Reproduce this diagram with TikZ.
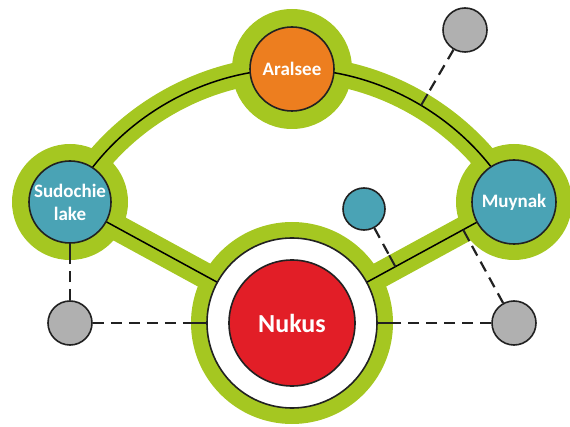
\documentclass[tikz,border=0pt]{standalone}
\usepackage{fontspec}
\setsansfont{Carlito}
\usetikzlibrary{calc}
\definecolor{bandgreen}{RGB}{165,199,33}
\definecolor{lakeblue}{RGB}{74,163,181}
\definecolor{seaorange}{RGB}{237,126,31}
\definecolor{cityred}{RGB}{226,30,39}
\definecolor{dotgray}{RGB}{176,176,176}
\definecolor{ink}{RGB}{33,33,33}

\begin{document}
\begin{tikzpicture}[x=1pt, y=1pt,
        place/.style={circle, draw=ink, line width=1.6pt, inner sep=0pt,
            text=white, font=\sffamily\bfseries\fontsize{19}{23}\selectfont, align=center},
        halo/.style={circle, fill=bandgreen, inner sep=0pt},
        band/.style={draw=bandgreen, line width=26pt, line join=round},
        road/.style={draw=black, line width=1.5pt},
        tick/.style={draw=ink, line width=2pt},
        link/.style={draw=ink, line width=2.2pt, dash pattern=on 11pt off 7pt}]
    \useasboundingbox (0,0) rectangle (570,426);
    \coordinate (nukus) at (292,103);
    \coordinate (aral) at (292,357);
    \coordinate (sudo) at (70,224);
    \coordinate (muy) at (514,224);
    \draw[band] (sudo) to[bend left=31, looseness=.9] (aral)
        to[bend left=31, looseness=.9] (muy) -- (nukus) -- (sudo);
    \node[halo, minimum size=120pt] at (aral) {};
    \node[halo, minimum size=116pt] at (sudo) {};
    \node[halo, minimum size=116pt] at (muy) {};
    \node[halo, minimum size=202pt] at (nukus) {};
    \draw[road] (sudo) to[bend left=31, looseness=.9] (aral)
        to[bend left=31, looseness=.9] coordinate[pos=.5] (arcmid) (muy);
    \draw[road] (muy) -- (nukus) -- (sudo);
    \node[place, fill=seaorange, minimum size=84pt] (A) at (aral) {Aralsee};
    \node[place, fill=lakeblue, minimum size=82pt, inner sep=-4pt] (S) at (sudo) {Sudochie\\lake};
    \node[place, fill=lakeblue, minimum size=84pt] (M) at (muy) {Muynak};
    \node[place, fill=white, minimum size=170pt] (W) at (nukus) {};
    \node[place, fill=cityred, minimum size=126pt,
        font=\sffamily\bfseries\fontsize{26}{30}\selectfont] (N) at (nukus) {Nukus};
    \node[place, fill=dotgray, minimum size=44pt] (g1) at (465,396) {};
    \node[place, fill=dotgray, minimum size=44pt] (gl) at (S |- N) {};
    \node[place, fill=dotgray, minimum size=44pt] (gr) at (M |- N) {};
    \node[place, fill=lakeblue, minimum size=42pt] (t) at (364,217) {};
    \draw[tick] (arcmid) -- ($(arcmid)!13pt!(g1)$) coordinate (p1);
    \draw[link] (g1) -- (p1);
    \coordinate (f2) at ($(nukus)!(t)!(muy)$);
    \draw[tick] (f2) -- ($(f2)!13pt!(t)$) coordinate (p2);
    \draw[link] (t) -- (p2);
    \coordinate (f3) at ($(nukus)!(gr)!(muy)$);
    \draw[tick] (f3) -- ($(f3)!13pt!(gr)$) coordinate (p3);
    \draw[link] (gr) -- (p3);
    \draw[tick] (S.south) -- ++(0,-17) coordinate (p4);
    \draw[link] (gl) -- (p4);
    \draw[tick] (W.west) -- ++(-16,0) coordinate (p5);
    \draw[link] (gl) -- (p5);
    \draw[tick] (W.east) -- ++(16,0) coordinate (p6);
    \draw[link] (gr) -- (p6);
\end{tikzpicture}
\end{document}
